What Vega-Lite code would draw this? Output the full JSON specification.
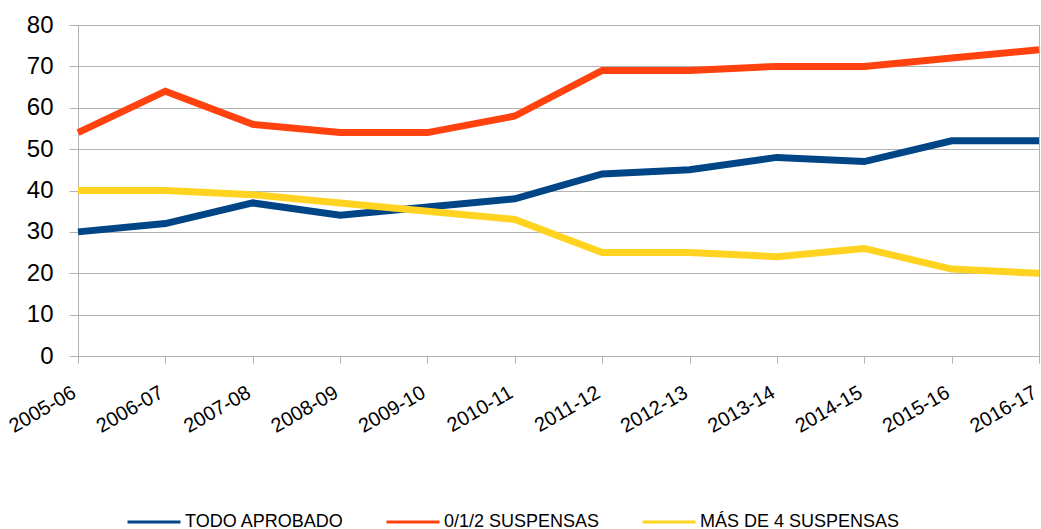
{
  "$schema": "https://vega.github.io/schema/vega-lite/v6.json",
  "width": 961,
  "height": 331,
  "autosize": {"type": "none"},
  "padding": {"left": 78, "top": 25, "right": 2, "bottom": 173},
  "background": "#ffffff",
  "view": {"stroke": "#b3b3b3", "strokeWidth": 1},
  "config": {"font": "Liberation Sans"},
  "data": {
    "values": [
      {"curso": "2005-06", "serie": "TODO APROBADO", "valor": 30},
      {"curso": "2006-07", "serie": "TODO APROBADO", "valor": 32},
      {"curso": "2007-08", "serie": "TODO APROBADO", "valor": 37},
      {"curso": "2008-09", "serie": "TODO APROBADO", "valor": 34},
      {"curso": "2009-10", "serie": "TODO APROBADO", "valor": 36},
      {"curso": "2010-11", "serie": "TODO APROBADO", "valor": 38},
      {"curso": "2011-12", "serie": "TODO APROBADO", "valor": 44},
      {"curso": "2012-13", "serie": "TODO APROBADO", "valor": 45},
      {"curso": "2013-14", "serie": "TODO APROBADO", "valor": 48},
      {"curso": "2014-15", "serie": "TODO APROBADO", "valor": 47},
      {"curso": "2015-16", "serie": "TODO APROBADO", "valor": 52},
      {"curso": "2016-17", "serie": "TODO APROBADO", "valor": 52},
      {"curso": "2005-06", "serie": "0/1/2 SUSPENSAS", "valor": 54},
      {"curso": "2006-07", "serie": "0/1/2 SUSPENSAS", "valor": 64},
      {"curso": "2007-08", "serie": "0/1/2 SUSPENSAS", "valor": 56},
      {"curso": "2008-09", "serie": "0/1/2 SUSPENSAS", "valor": 54},
      {"curso": "2009-10", "serie": "0/1/2 SUSPENSAS", "valor": 54},
      {"curso": "2010-11", "serie": "0/1/2 SUSPENSAS", "valor": 58},
      {"curso": "2011-12", "serie": "0/1/2 SUSPENSAS", "valor": 69},
      {"curso": "2012-13", "serie": "0/1/2 SUSPENSAS", "valor": 69},
      {"curso": "2013-14", "serie": "0/1/2 SUSPENSAS", "valor": 70},
      {"curso": "2014-15", "serie": "0/1/2 SUSPENSAS", "valor": 70},
      {"curso": "2015-16", "serie": "0/1/2 SUSPENSAS", "valor": 72},
      {"curso": "2016-17", "serie": "0/1/2 SUSPENSAS", "valor": 74},
      {"curso": "2005-06", "serie": "MÁS DE 4 SUSPENSAS", "valor": 40},
      {"curso": "2006-07", "serie": "MÁS DE 4 SUSPENSAS", "valor": 40},
      {"curso": "2007-08", "serie": "MÁS DE 4 SUSPENSAS", "valor": 39},
      {"curso": "2008-09", "serie": "MÁS DE 4 SUSPENSAS", "valor": 37},
      {"curso": "2009-10", "serie": "MÁS DE 4 SUSPENSAS", "valor": 35},
      {"curso": "2010-11", "serie": "MÁS DE 4 SUSPENSAS", "valor": 33},
      {"curso": "2011-12", "serie": "MÁS DE 4 SUSPENSAS", "valor": 25},
      {"curso": "2012-13", "serie": "MÁS DE 4 SUSPENSAS", "valor": 25},
      {"curso": "2013-14", "serie": "MÁS DE 4 SUSPENSAS", "valor": 24},
      {"curso": "2014-15", "serie": "MÁS DE 4 SUSPENSAS", "valor": 26},
      {"curso": "2015-16", "serie": "MÁS DE 4 SUSPENSAS", "valor": 21},
      {"curso": "2016-17", "serie": "MÁS DE 4 SUSPENSAS", "valor": 20}
    ]
  },
  "mark": {"type": "line", "strokeWidth": 7, "strokeJoin": "miter", "strokeCap": "butt"},
  "encoding": {
    "x": {
      "field": "curso",
      "type": "ordinal",
      "scale": {"type": "point", "padding": 0},
      "axis": {
        "title": null,
        "labelAngle": -30,
        "labelAlign": "right",
        "labelBaseline": "alphabetic",
        "labelFontSize": 20,
        "labelColor": "#000000",
        "labelPadding": 33,
        "labelOffset": -1,
        "labelOverlap": false,
        "tickSize": 7,
        "tickColor": "#b3b3b3",
        "domainColor": "#b3b3b3",
        "grid": false
      }
    },
    "y": {
      "field": "valor",
      "type": "quantitative",
      "scale": {"domain": [0, 80], "nice": false},
      "axis": {
        "title": null,
        "values": [0, 10, 20, 30, 40, 50, 60, 70, 80],
        "labelFontSize": 24,
        "labelColor": "#000000",
        "labelPadding": 16,
        "tickSize": 9,
        "tickColor": "#b3b3b3",
        "domainColor": "#b3b3b3",
        "gridColor": "#b3b3b3",
        "gridWidth": 1
      }
    },
    "color": {
      "field": "serie",
      "type": "nominal",
      "sort": ["TODO APROBADO", "0/1/2 SUSPENSAS", "MÁS DE 4 SUSPENSAS"],
      "scale": {
        "domain": ["TODO APROBADO", "0/1/2 SUSPENSAS", "MÁS DE 4 SUSPENSAS"],
        "range": ["#004586", "#ff420e", "#ffd320"]
      },
      "legend": {
        "title": null,
        "orient": "none",
        "legendX": 48,
        "legendY": 469,
        "direction": "horizontal",
        "columns": 3,
        "gridAlign": "none",
        "columnPadding": 36,
        "symbolType": "stroke",
        "symbolSize": 2809,
        "symbolStrokeWidth": 3,
        "labelFontSize": 18,
        "labelColor": "#000000",
        "labelOffset": 3,
        "labelLimit": 300
      }
    }
  }
}
